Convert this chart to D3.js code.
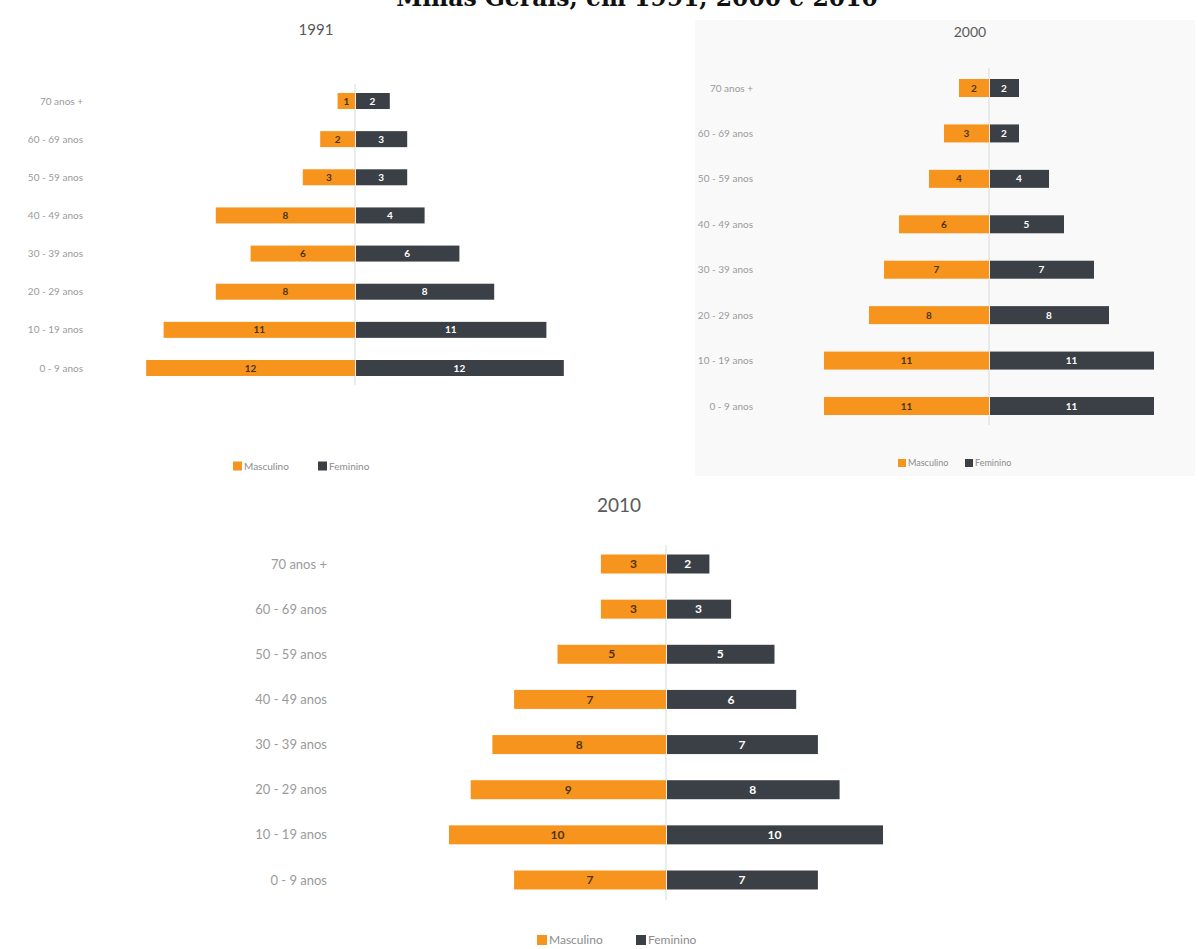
<!DOCTYPE html>
<html>
<head>
<meta charset="utf-8">
<script src="https://cdn.jsdelivr.net/npm/d3@7"></script>
<style>
  body { margin: 0; background: #fff; }
  svg { display: block; font-family: Lato, "Open Sans", sans-serif; }
  .cat-label { fill: #9a9a9a; }
  .year-title { fill: #595959; }
  .legend-label { fill: #8c8c8c; }
</style>
</head>
<body>
<svg id="chart" width="1198" height="949"></svg>
<script>
// Pirâmides etárias de Minas Gerais (%, por sexo)

const ageGroups = [
  '70 anos +', '60 - 69 anos', '50 - 59 anos', '40 - 49 anos',
  '30 - 39 anos', '20 - 29 anos', '10 - 19 anos', '0 - 9 anos',
];

const male1991 = [1, 2, 3, 8, 6, 8, 11, 12];
const female1991 = [2, 3, 3, 4, 6, 8, 11, 12];

const male2000 = [2, 3, 4, 6, 7, 8, 11, 11];
const female2000 = [2, 2, 4, 5, 7, 8, 11, 11];

const male2010 = [3, 3, 5, 7, 8, 9, 10, 7];
const female2010 = [2, 3, 5, 6, 7, 8, 10, 7];

const seriesNames = ['Masculino', 'Feminino'];

const COLORS = { male: '#f7941d', female: '#3b3f46' };

const svg = d3.select('#chart');

// título (cortado no topo, como na imagem original)
svg.append('text')
  .attr('x', 637)
  .attr('y', 6)
  .attr('text-anchor', 'middle')
  .style('font-family', '"DejaVu Serif", serif')
  .style('font-weight', 'bold')
  .style('font-size', '23.5px')
  .style('fill', '#111')
  .text('Minas Gerais, em 1991, 2000 e 2010');

const panels = [
  {
    year: '1991', male: male1991, female: female1991, max: 12,
    center: 355, unit: 17.4, rowTop: 101, rowBottom: 368, barH: 16,
    labelX: 83, catSize: 10, valSize: 10, titleX: 316, titleY: 35, titleSize: 15,
    lineTop: 84, lineBottom: 385,
    legendY: 466, legendX: 233, legendGap: 85, legendSize: 10, legendBox: 9,
  },
  {
    year: '2000', male: male2000, female: female2000, max: 11,
    center: 989, unit: 15, rowTop: 88, rowBottom: 406, barH: 18,
    labelX: 753, catSize: 10, valSize: 10, titleX: 970, titleY: 37, titleSize: 14,
    lineTop: 68, lineBottom: 425, bg: { x: 695, y: 20, w: 500, h: 456 },
    legendY: 463, legendX: 898, legendGap: 67, legendSize: 9, legendBox: 8,
  },
  {
    year: '2010', male: male2010, female: female2010, max: 10,
    center: 666, unit: 21.7, rowTop: 564, rowBottom: 880, barH: 19,
    labelX: 327, catSize: 13, valSize: 12, titleX: 619, titleY: 512, titleSize: 19,
    lineTop: 545, lineBottom: 900,
    legendY: 940, legendX: 537, legendGap: 99, legendSize: 12, legendBox: 10,
  },
];

panels.forEach(drawPyramid);

function drawPyramid(p) {
  const g = svg.append('g').attr('class', `pyramid pyramid-${p.year}`);

  if (p.bg) {
    g.append('rect')
      .attr('x', p.bg.x).attr('y', p.bg.y)
      .attr('width', p.bg.w).attr('height', p.bg.h)
      .attr('fill', '#f9f9f9');
  }

  const x = d3.scaleLinear()
    .domain([-p.max, p.max])
    .range([p.center - p.max * p.unit, p.center + p.max * p.unit]);

  const y = d3.scalePoint()
    .domain(ageGroups)
    .range([p.rowTop, p.rowBottom]);

  const rows = ageGroups.map((age, i) => ({ age, male: p.male[i], female: p.female[i] }));

  g.append('text')
    .attr('class', 'year-title')
    .attr('x', p.titleX)
    .attr('y', p.titleY)
    .attr('text-anchor', 'middle')
    .style('font-size', `${p.titleSize}px`)
    .text(p.year);

  // eixo central
  g.append('line')
    .attr('x1', x(0)).attr('x2', x(0))
    .attr('y1', p.lineTop).attr('y2', p.lineBottom)
    .attr('stroke', '#d9d9d9')
    .attr('stroke-width', 1);

  g.selectAll('.cat-label')
    .data(rows)
    .join('text')
    .attr('class', 'cat-label')
    .attr('x', p.labelX)
    .attr('y', (d) => y(d.age))
    .attr('dy', '0.35em')
    .attr('text-anchor', 'end')
    .style('font-size', `${p.catSize}px`)
    .text((d) => d.age);

  g.selectAll('.bar-male')
    .data(rows)
    .join('rect')
    .attr('class', 'bar-male')
    .attr('x', (d) => x(-d.male))
    .attr('y', (d) => y(d.age) - p.barH / 2)
    .attr('width', (d) => x(0) - x(-d.male))
    .attr('height', p.barH)
    .attr('fill', COLORS.male);

  g.selectAll('.bar-female')
    .data(rows)
    .join('rect')
    .attr('class', 'bar-female')
    .attr('x', x(0) + 1)
    .attr('y', (d) => y(d.age) - p.barH / 2)
    .attr('width', (d) => x(d.female) - x(0) - 1)
    .attr('height', p.barH)
    .attr('fill', COLORS.female);

  g.selectAll('.val-male')
    .data(rows)
    .join('text')
    .attr('class', 'val-male')
    .attr('x', (d) => (x(-d.male) + x(0)) / 2)
    .attr('y', (d) => y(d.age))
    .attr('dy', '0.35em')
    .attr('text-anchor', 'middle')
    .style('font-size', `${p.valSize}px`)
    .style('font-weight', 'bold')
    .style('fill', '#4a3410')
    .text((d) => d.male);

  g.selectAll('.val-female')
    .data(rows)
    .join('text')
    .attr('class', 'val-female')
    .attr('x', (d) => (x(d.female) + x(0)) / 2)
    .attr('y', (d) => y(d.age))
    .attr('dy', '0.35em')
    .attr('text-anchor', 'middle')
    .style('font-size', `${p.valSize}px`)
    .style('font-weight', 'bold')
    .style('fill', '#ffffff')
    .text((d) => d.female);

  // legenda
  const legend = g.append('g')
    .attr('transform', `translate(${p.legendX}, ${p.legendY})`);

  const items = legend.selectAll('g')
    .data(seriesNames)
    .join('g')
    .attr('transform', (_, i) => `translate(${i * p.legendGap}, 0)`);

  items.append('rect')
    .attr('x', 0)
    .attr('y', -p.legendBox / 2)
    .attr('width', p.legendBox)
    .attr('height', p.legendBox)
    .attr('fill', (_, i) => (i === 0 ? COLORS.male : COLORS.female));

  items.append('text')
    .attr('class', 'legend-label')
    .attr('x', p.legendBox + 2)
    .attr('y', 0)
    .attr('dy', '0.35em')
    .style('font-size', `${p.legendSize}px`)
    .text((d) => d);
}
</script>
</body>
</html>
